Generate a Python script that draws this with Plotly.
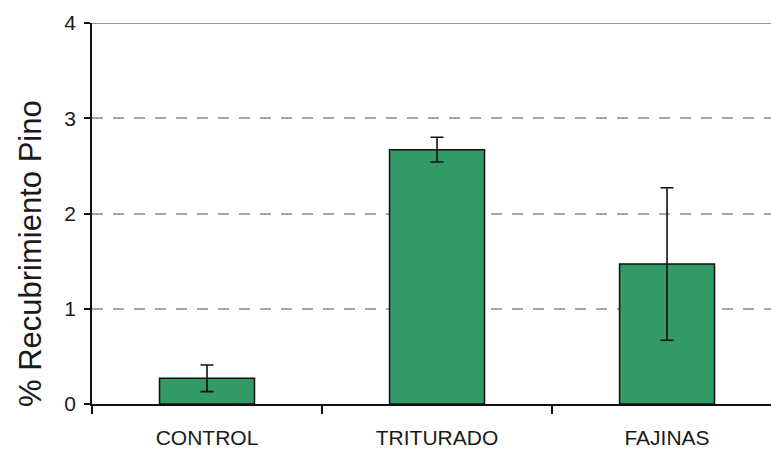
import plotly.graph_objects as go

categories = ["CONTROL", "TRITURADO", "FAJINAS"]
values = [0.27, 2.67, 1.47]
errors = [0.14, 0.13, 0.80]
y_ticks = [0, 1, 2, 3, 4]
y_title = "% Recubrimiento Pino"

fig = go.Figure()
fig.add_trace(go.Bar(
    x=categories, y=values,
    width=0.413,
    marker=dict(color="#339966", line=dict(color="#111111", width=1.5)),
    error_y=dict(type="data", array=errors, visible=True, color="#111111",
                 thickness=1.6, width=6.5),
))

fig.add_shape(type="line", xref="paper", yref="y", x0=0, x1=1, y0=4, y1=4,
              line=dict(color="#999999", width=2), layer="below")

fig.add_annotation(
    text=y_title, textangle=-90, showarrow=False,
    xref="paper", yref="paper", x=(30 - 92) / 679, y=(404 - 254) / 381,
    xanchor="center", yanchor="middle",
    font=dict(size=31, color="#1a1a1a"),
)

fig.update_layout(
    width=771, height=453,
    margin=dict(l=92, r=0, t=23, b=49, autoexpand=False),
    plot_bgcolor="white", paper_bgcolor="white",
    showlegend=False,
    font=dict(family="Liberation Sans, Arial, sans-serif", color="#1a1a1a"),
    xaxis=dict(
        type="category", range=[-0.5, 2.452],
        showline=True, linecolor="#111111", linewidth=1.5,
        ticks="outside", tickson="boundaries", ticklen=8, tickcolor="#111111", tickwidth=1.5,
        tickfont=dict(size=21),
        ticklabelstandoff=14,
        showgrid=False,
    ),
    yaxis=dict(
        range=[0, 4], tickvals=y_ticks,
        showline=True, linecolor="#111111", linewidth=1.5,
        ticks="outside", ticklen=6, tickcolor="#111111", tickwidth=1.5,
        tickfont=dict(size=21),
        ticklabelstandoff=4,
        showgrid=True, gridcolor="#a6a6a6", gridwidth=1.8, griddash="11px,10px",
        zeroline=False,
    ),
)

fig.write_html("out.html", config={"displayModeBar": False},
               post_script="document.body.style.margin='0';")
